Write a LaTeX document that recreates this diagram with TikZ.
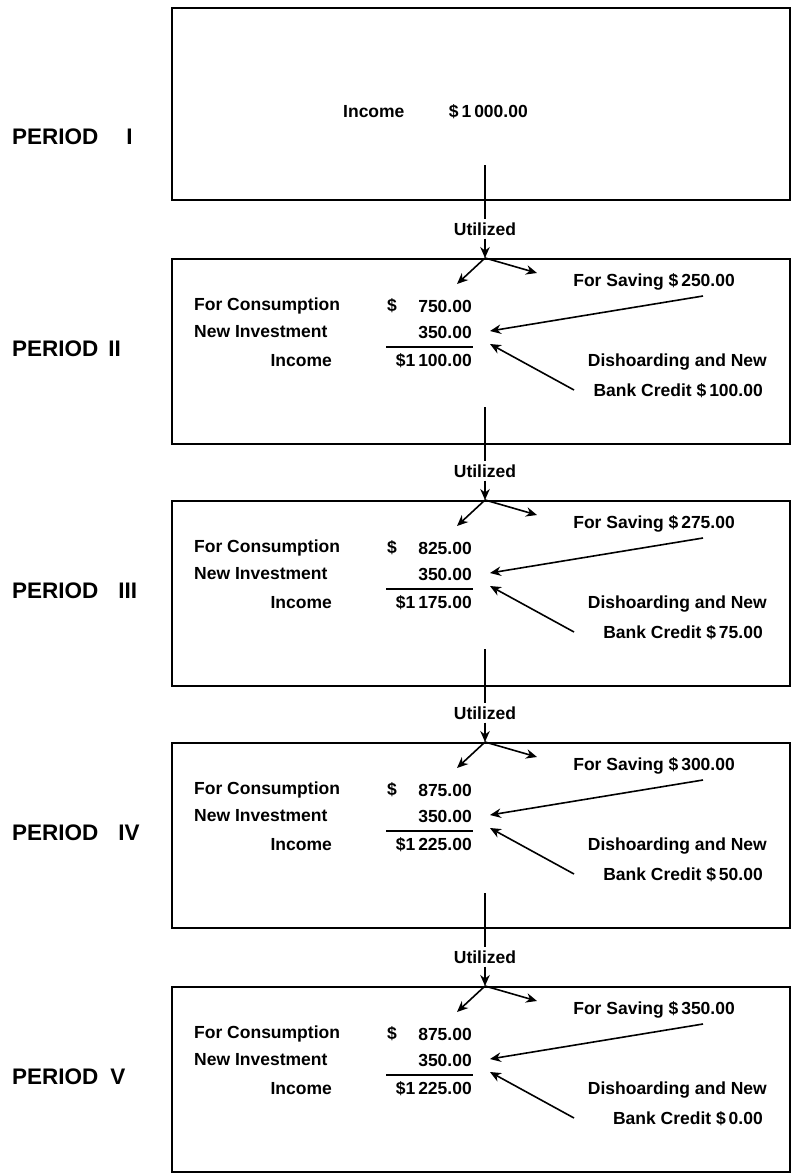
\documentclass[tikz,border=0pt]{standalone}
\usepackage{fontspec}
\setmainfont{Liberation Sans}
\usetikzlibrary{arrows.meta}
\begin{document}
\begin{tikzpicture}[x=1pt,y=-1pt,
  frame/.style={draw, line width=1.6pt, inner sep=0pt, anchor=north west, minimum width=618pt},
  txt/.style={inner sep=0pt, font=\fontsize{17.5}{20}\selectfont\bfseries},
  per/.style={inner sep=0pt, anchor=west, font=\fontsize{22.5}{26}\selectfont\bfseries},
  conn/.style={line width=1.7pt},
  arr/.style={line width=1.6pt, -{Stealth[length=11pt,width=9.5pt]}},
  rulel/.style={line width=1.4pt},
]
\useasboundingbox (0,0) rectangle (790,1175);
% Period I
\node[frame, minimum height=192pt] (box1) at (171,7) {};
\node[per] (p1) at (12,137) {PERIOD\hspace{28pt}I};
\node[txt, anchor=west] (inl1) at (343,112) {Income};
\node[txt, anchor=east] (ic1) at (528,112) {\$\,1\,000.00};
% Periods II--V
\foreach \n/\T/\sv/\cs/\inc/\cr/\pl/\gp in {
  2/258/250.00/750.00/1\,100.00/100.00/II/10,
  3/500/275.00/825.00/1\,175.00/75.00/III/20,
  4/742/300.00/875.00/1\,225.00/50.00/IV/20,
  5/986/350.00/875.00/1\,225.00/0.00/V/12}{
  \node[frame, minimum height=185pt] (box\n) at (171,\T) {};
  \node[per] (p\n) at (12,{\T+91}) {PERIOD\hspace{\gp pt}\pl};
  \coordinate (j\n) at (485,\T);
  \coordinate (cl\n) at (457,{\T+26});
  \coordinate (cr\n) at (537,{\T+15});
  \draw[arr] (j\n) -- (cl\n);
  \draw[arr] (j\n) -- (cr\n);
  \node[txt, anchor=east] (sav\n) at (735,{\T+24}) {For Saving \$\,\sv};
  \node[txt, anchor=west] (con\n) at (194,{\T+48}) {For Consumption};
  \node[txt, anchor=west] (cd\n) at (387,{\T+48}) {\$};
  \node[txt, anchor=east] (cv\n) at (472,{\T+48}) {\cs};
  \node[txt, anchor=west] (inv\n) at (194,{\T+74}) {New Investment};
  \node[txt, anchor=east] (iv\n) at (472,{\T+74}) {350.00};
  \draw[rulel] (386,{\T+89}) -- (473,{\T+89});
  \node[txt, anchor=east] (inl\n) at (332,{\T+103}) {Income};
  \node[txt, anchor=east] (ic\n) at (472,{\T+103}) {\$\inc};
  \node[txt, anchor=east] (dh\n) at (767,{\T+104}) {Dishoarding and New};
  \node[txt, anchor=east] (bc\n) at (763,{\T+133}) {Bank Credit \$\,\cr};
  \coordinate (sa\n) at (703,{\T+38});
  \coordinate (st\n) at (490,{\T+73});
  \draw[arr] (sa\n) -- (st\n);
  \coordinate (ca\n) at (574,{\T+132});
  \coordinate (ct\n) at (490,{\T+86});
  \draw[arr] (ca\n) -- (ct\n);
}
% Utilized links
\foreach \a/\b/\N in {1/2/258, 2/3/500, 3/4/742, 4/5/986}{
  \coordinate (s\a) at (485,{\N-93});
  \node[txt, inner sep=3pt] (u\a) at (485,{\N-29}) {Utilized};
  \draw[conn] (s\a) -- (u\a.north);
  \draw[arr] (u\a.south) -- (j\b);
}
\end{tikzpicture}
\end{document}
